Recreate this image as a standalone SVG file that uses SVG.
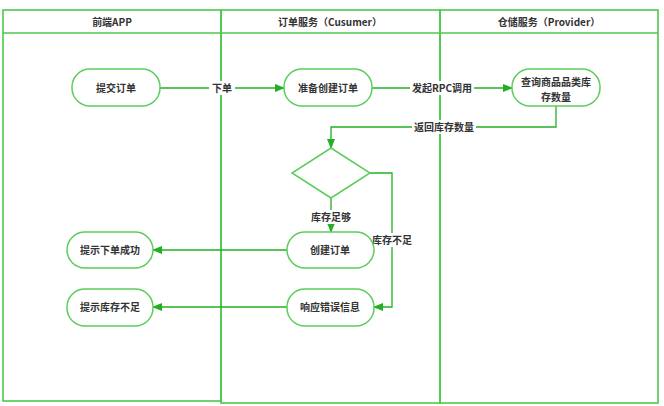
<svg xmlns="http://www.w3.org/2000/svg" width="664" height="406" viewBox="0 0 664 406">
<style>
.lane{fill:none;stroke:#4cc94c;stroke-width:1.6}
.node{fill:#fff;stroke:#5ccd5c;stroke-width:1.5}
.t{font-family:"Noto Sans CJK SC","Liberation Sans",sans-serif;font-size:10px;fill:#333;text-anchor:middle;font-weight:bold}
.edge{fill:none;stroke:#22b022;stroke-width:1.3}
.lbl{font-family:"Noto Sans CJK SC","Liberation Sans",sans-serif;font-size:10px;fill:#333;text-anchor:middle;font-weight:bold}
</style>
<defs>
<marker id="ah" markerWidth="10" markerHeight="8" refX="9" refY="4" orient="auto" markerUnits="userSpaceOnUse">
<path d="M0,0 L10,4 L0,8 Z" fill="#22b022"/>
</marker>
</defs>
<rect width="664" height="406" fill="#fff"/>
<g id="lanes">
<g id="lane-app">
<rect class="lane" x="3" y="10" width="218" height="391"/>
<line class="lane" x1="3" y1="33" x2="221" y2="33"/>
<text class="t" x="112" y="25.5">前端APP</text>
</g>
<g id="lane-order">
<rect class="lane" x="221" y="10" width="219" height="393"/>
<line class="lane" x1="221" y1="33" x2="440" y2="33"/>
<text class="t" x="330" y="25.5">订单服务（Cusumer）</text>
</g>
<g id="lane-storage">
<rect class="lane" x="440" y="10" width="218" height="393"/>
<line class="lane" x1="440" y1="33" x2="658" y2="33"/>
<text class="t" x="549" y="25.5">仓储服务（Provider）</text>
</g>
</g>
<g id="connectors">
<line class="edge" x1="160" y1="88" x2="284" y2="88" marker-end="url(#ah)"/>
<line class="edge" x1="372" y1="88" x2="512" y2="88" marker-end="url(#ah)"/>
<polyline class="edge" points="556,106 556,127 331,127 331,148" marker-end="url(#ah)"/>
<line class="edge" x1="331" y1="198" x2="331" y2="232" marker-end="url(#ah)"/>
<polyline class="edge" points="370,173 392,173 392,307 374,307" marker-end="url(#ah)"/>
<line class="edge" x1="287" y1="250" x2="153" y2="250" marker-end="url(#ah)"/>
<line class="edge" x1="287" y1="307" x2="153" y2="307" marker-end="url(#ah)"/>
<rect x="209" y="81" width="26" height="14" fill="#fff"/>
<text class="lbl" x="222" y="91.5">下单</text>
<rect x="410" y="81" width="64" height="14" fill="#fff"/>
<text class="lbl" x="442" y="91.5">发起RPC调用</text>
<rect x="412" y="120" width="64" height="14" fill="#fff"/>
<text class="lbl" x="444" y="130.5">返回库存数量</text>
<rect x="309" y="210" width="44" height="14" fill="#fff"/>
<text class="lbl" x="331" y="220.5">库存足够</text>
<rect x="371" y="233" width="42" height="14" fill="#fff"/>
<text class="lbl" x="392" y="243.5">库存不足</text>
</g>
<g id="n-submit">
<rect class="node" x="72" y="69" width="88" height="37" rx="18" ry="18"/>
<text class="t" x="116" y="91.5">提交订单</text>
</g>
<g id="n-prepare">
<rect class="node" x="284" y="69" width="88" height="37" rx="18" ry="18"/>
<text class="t" x="328" y="91.5">准备创建订单</text>
</g>
<g id="n-query">
<rect class="node" x="512" y="69" width="88" height="37" rx="18" ry="18"/>
<text class="t" x="556" y="86">查询商品品类库</text>
<text class="t" x="556" y="101">存数量</text>
</g>
<g id="n-decision">
<polygon class="node" points="331,148 370,173 331,198 292,173"/>
</g>
<g id="n-create">
<rect class="node" x="287" y="232" width="87" height="36" rx="18" ry="18"/>
<text class="t" x="330" y="253.5">创建订单</text>
</g>
<g id="n-error">
<rect class="node" x="287" y="289" width="87" height="37" rx="18" ry="18"/>
<text class="t" x="330" y="311">响应错误信息</text>
</g>
<g id="n-success">
<rect class="node" x="67" y="232" width="86" height="36" rx="18" ry="18"/>
<text class="t" x="110" y="253.5">提示下单成功</text>
</g>
<g id="n-short">
<rect class="node" x="67" y="289" width="86" height="37" rx="18" ry="18"/>
<text class="t" x="110" y="311">提示库存不足</text>
</g>
</svg>
